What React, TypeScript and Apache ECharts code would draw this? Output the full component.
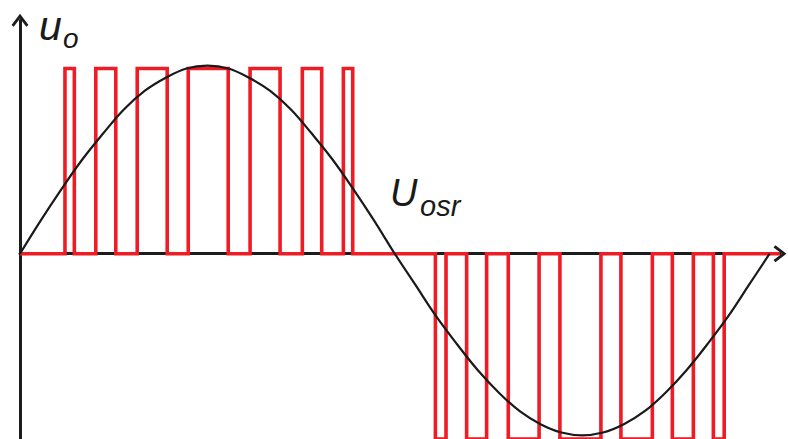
import React, { useEffect, useRef } from "react";
import * as echarts from "echarts";

// PWM pulse edges (electrical degrees)
const posRise = [21.6, 36.4, 56.3, 80.8, 110.5, 135.6, 155.3];
const posFall = [26.1, 46.0, 70.7, 100.0, 124.9, 144.9, 159.8];
const negRise = [199.5, 214.5, 234.5, 259.3, 288.6, 313.3, 333.0];
const negFall = [204.6, 224.1, 249.3, 279.0, 303.7, 323.4, 338.2];
const pulseLevel = 1;
const traceEnd = 365;

// reference sine U_osr, sampled every 10 degrees from the picture
const sineAngles = [
  0, 10, 20, 30, 40, 50, 60, 70, 80, 90, 100, 110, 120, 130, 140, 150, 160, 170, 180,
  190, 200, 210, 220, 230, 240, 250, 260, 270, 280, 290, 300, 310, 320, 330, 340, 350, 360,
];
const sineValues = [
  0, 0.18, 0.35, 0.51, 0.65, 0.78, 0.88, 0.95, 1.0, 1.015, 1.0, 0.95, 0.88, 0.78, 0.65, 0.51, 0.35, 0.18, 0,
  -0.17, -0.34, -0.49, -0.63, -0.75, -0.85, -0.92, -0.965, -0.98, -0.965, -0.92, -0.85, -0.75, -0.63, -0.49,
  -0.34, -0.17, 0,
];

const yLabel = "u";
const yLabelSub = "o";
const sineLabel = "U";
const sineLabelSub = "osr";

const CHEVRON = "path://M10,0 L20,13 L17.4,15.2 L10,5.4 L2.6,15.2 L0,13 Z";

function buildPwm(): number[][] {
  const pts: number[][] = [[0, 0]];
  for (let i = 0; i < posRise.length; i++) {
    pts.push([posRise[i], 0], [posRise[i], pulseLevel], [posFall[i], pulseLevel], [posFall[i], 0]);
  }
  for (let i = 0; i < negRise.length; i++) {
    pts.push([negRise[i], 0], [negRise[i], -pulseLevel], [negFall[i], -pulseLevel], [negFall[i], 0]);
  }
  pts.push([traceEnd, 0]);
  return pts;
}

export default function App() {
  const ref = useRef<HTMLDivElement>(null);
  useEffect(() => {
    document.body.style.margin = "0";
    if (!ref.current) return;
    const chart = echarts.init(ref.current, null, { renderer: "svg" });
    const axisLine = {
      show: true,
      onZero: true,
      symbol: ["none", CHEVRON],
      symbolSize: [17, 14],
      lineStyle: { color: "#1c1c1c", width: 3 },
    };
    const textFont = (size: number) => `italic ${size}px "Liberation Sans", Arial, sans-serif`;
    chart.setOption({
      animation: false,
      backgroundColor: "#ffffff",
      grid: { left: 20, right: 8, top: 20.3, bottom: -3.9, containLabel: false },
      xAxis: {
        type: "value",
        min: 0,
        max: 365,
        axisLine,
        axisTick: { show: false },
        axisLabel: { show: false },
        splitLine: { show: false },
      },
      yAxis: {
        type: "value",
        min: -1,
        max: 1.26,
        axisLine,
        axisTick: { show: false },
        axisLabel: { show: false },
        splitLine: { show: false },
      },
      series: [
        {
          name: "u_o",
          type: "line",
          data: buildPwm(),
          showSymbol: false,
          symbol: "none",
          lineStyle: { color: "#ee1c25", width: 3.6, join: "miter" },
          z: 3,
        },
        {
          name: "U_osr",
          type: "line",
          data: sineAngles.map((a, i) => [a, sineValues[i]]),
          smooth: 0.4,
          showSymbol: false,
          symbol: "none",
          lineStyle: { color: "#1a1a1a", width: 2.2 },
          z: 4,
        },
      ],
      graphic: [
        {
          type: "text",
          x: 39,
          y: 26,
          style: { text: yLabel, font: textFont(41), fill: "#1a1a1a", textAlign: "left", textVerticalAlign: "middle" },
        },
        {
          type: "text",
          x: 63,
          y: 38,
          style: { text: yLabelSub, font: textFont(28), fill: "#1a1a1a", textAlign: "left", textVerticalAlign: "middle" },
        },
        {
          type: "text",
          x: 390,
          y: 193,
          style: { text: sineLabel, font: textFont(38), fill: "#1a1a1a", textAlign: "left", textVerticalAlign: "middle" },
        },
        {
          type: "text",
          x: 420,
          y: 206,
          style: { text: sineLabelSub, font: textFont(29), fill: "#1a1a1a", textAlign: "left", textVerticalAlign: "middle" },
        },
      ],
    });
    return () => chart.dispose();
  }, []);
  return <div ref={ref} style={{ width: 788, height: 439 }} />;
}
